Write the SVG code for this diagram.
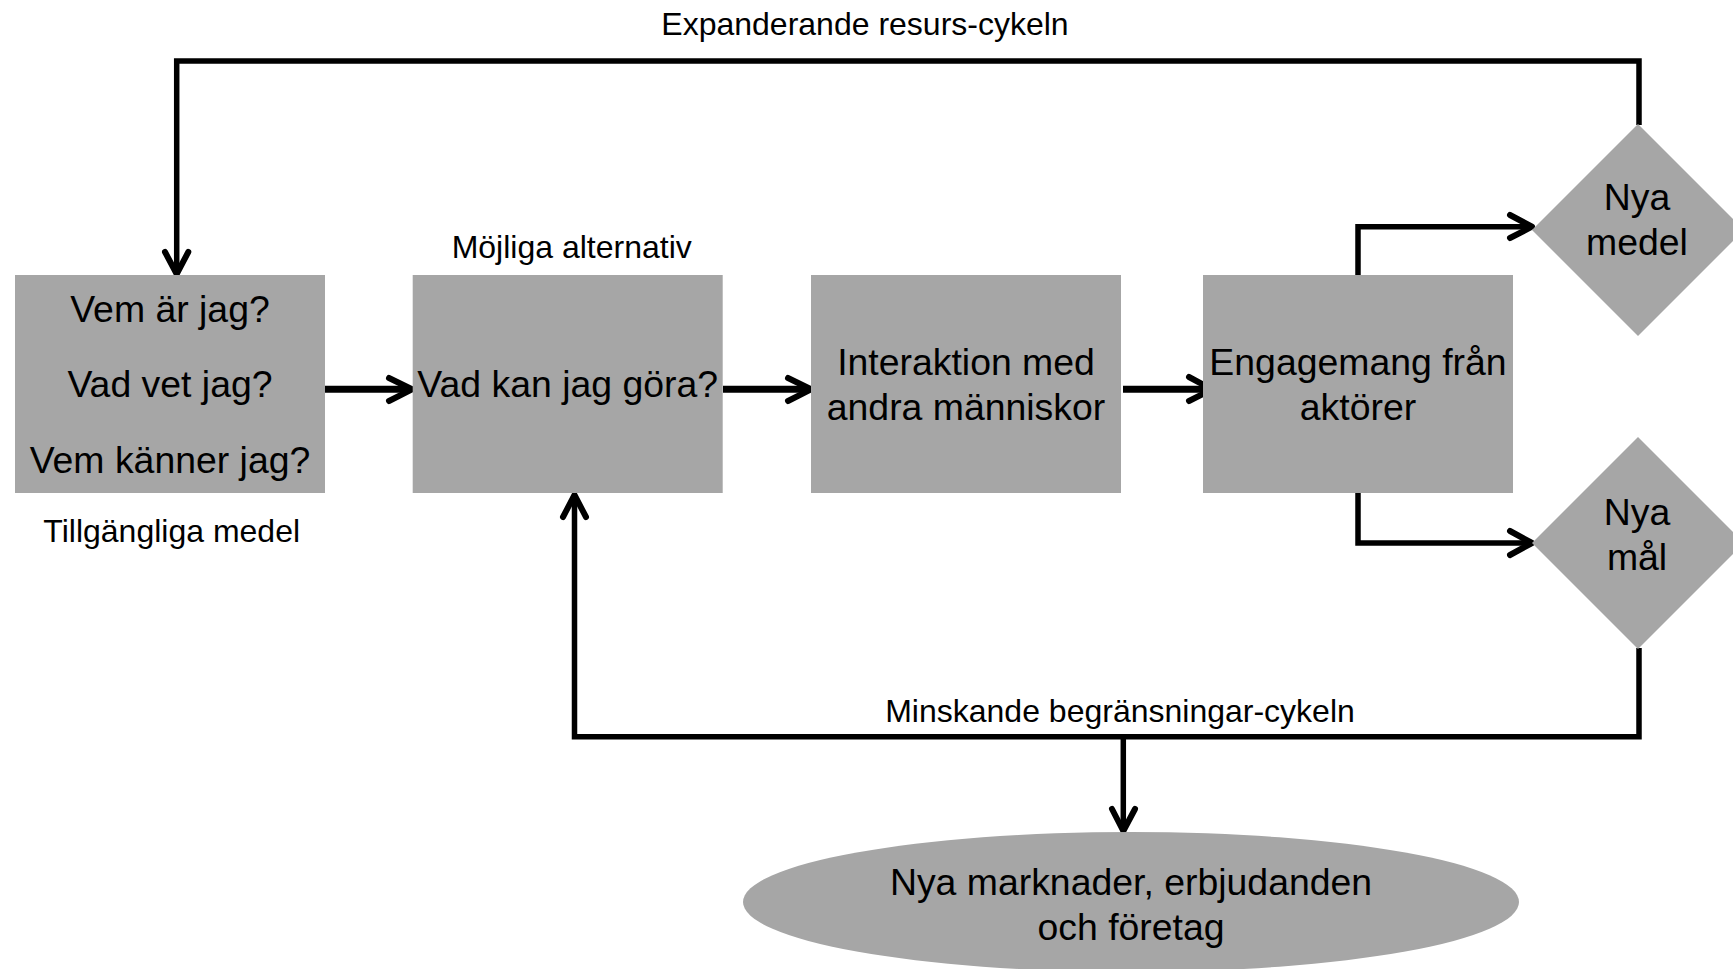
<svg xmlns="http://www.w3.org/2000/svg" width="1733" height="969" viewBox="0 0 1733 969">
<style>
.box{fill:#a6a6a6}
.t{font-family:"Liberation Sans",Arial,sans-serif;fill:#000;text-anchor:middle}
.big{font-size:37.4px}
.small{font-size:32px}
.ln{fill:none;stroke:#000;stroke-width:5.5;stroke-linejoin:miter}
.thick{stroke-width:7}
.head{fill:none;stroke:#000;stroke-width:6;stroke-linecap:round;stroke-linejoin:round}
</style>
<rect width="1733" height="969" fill="#fff"/>
<g id="connectors">
<path class="ln" d="M1639,125 V61 H176.7 V272"/>
<path class="head" d="M165,252 L176.7,274 L188.3,252"/>
<path class="ln thick" d="M325,389.3 H410"/>
<path class="head" d="M389,378 L412,389.3 L389,401"/>
<path class="ln thick" d="M723,389.3 H808"/>
<path class="head" d="M788,378 L811,389.3 L788,401"/>
<path class="ln thick" d="M1123,389.3 H1210"/>
<path class="head" d="M1189,377 L1212,389.3 L1189,401"/>
<path class="ln" d="M1358,275 V226.7 H1530"/>
<path class="head" d="M1510,215 L1532,226.7 L1510,238"/>
<path class="ln" d="M1358,493 V543 H1530"/>
<path class="head" d="M1510,531 L1532,543 L1510,555"/>
<path class="ln" d="M1639,648 V736.7 H574.5 V497"/>
<path class="head" d="M563,517 L574.5,495 L586,517"/>
<path class="ln" d="M1123.3,737 V830"/>
<path class="head" d="M1112,809 L1123.3,831 L1135,809"/>
</g>
<g id="box1">
<rect class="box" x="15" y="275" width="310" height="218"/>
<text class="t big" x="170" y="321.7">Vem är jag?</text>
<text class="t big" x="170" y="397">Vad vet jag?</text>
<text class="t big" x="170" y="473.3">Vem känner jag?</text>
</g>
<g id="label-tillgangliga">
<text class="t small" x="171.7" y="541.7">Tillgängliga medel</text>
</g>
<g id="box2">
<rect class="box" x="412.7" y="275" width="310" height="218"/>
<text class="t big" x="567.7" y="397.3">Vad kan jag göra?</text>
</g>
<g id="label-mojliga">
<text class="t small" x="571.7" y="258.3">Möjliga alternativ</text>
</g>
<g id="box3">
<rect class="box" x="811" y="275" width="310" height="218"/>
<text class="t big" x="966" y="375">Interaktion med</text>
<text class="t big" x="966" y="420">andra människor</text>
</g>
<g id="box4">
<rect class="box" x="1203" y="275" width="310" height="218"/>
<text class="t big" x="1358" y="375">Engagemang från</text>
<text class="t big" x="1358" y="420">aktörer</text>
</g>
<g id="diamond-medel">
<polygon class="box" points="1638,124 1744,230 1638,336 1532,230"/>
<text class="t big" x="1637" y="210">Nya</text>
<text class="t big" x="1637" y="255">medel</text>
</g>
<g id="diamond-mal">
<polygon class="box" points="1638,437 1744,543 1638,649 1532,543"/>
<text class="t big" x="1637" y="525">Nya</text>
<text class="t big" x="1637" y="570">mål</text>
</g>
<g id="label-expanderande">
<text class="t small" x="865" y="35">Expanderande resurs-cykeln</text>
</g>
<g id="label-minskande">
<text class="t small" x="1120" y="721.7">Minskande begränsningar-cykeln</text>
</g>
<g id="ellipse-nya">
<ellipse class="box" cx="1131" cy="902" rx="388" ry="70"/>
<text class="t big" x="1131" y="895">Nya marknader, erbjudanden</text>
<text class="t big" x="1131" y="940">och företag</text>
</g>
</svg>
